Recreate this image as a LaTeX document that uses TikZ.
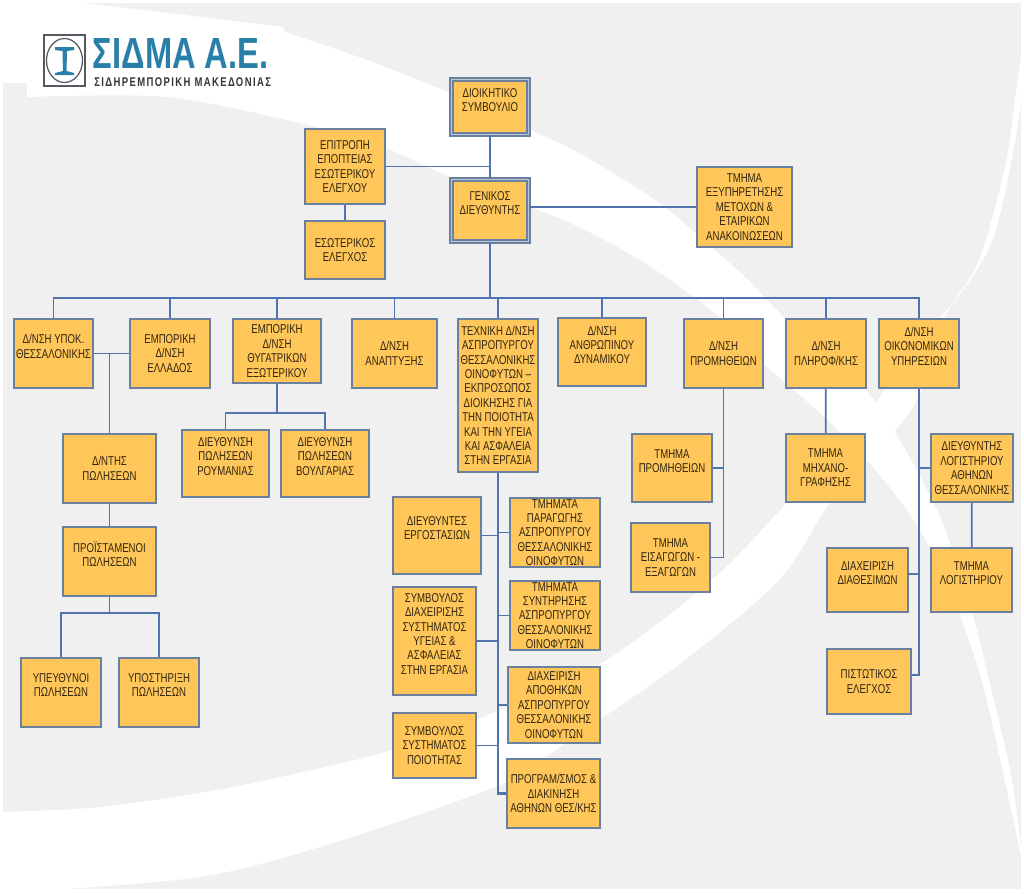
\documentclass[tikz,border=0pt]{standalone}
\usepackage{fontspec}
\setmainfont[FakeStretch=0.75]{Liberation Sans}
\usepackage{tikz}
\usetikzlibrary{shapes.geometric, positioning}
\definecolor{sheetgray}{HTML}{F0F0F1}
\definecolor{boxfill}{HTML}{FFC65A}
\definecolor{boxline}{HTML}{6A80A0}
\definecolor{linkblue}{HTML}{4F74B0}
\definecolor{boxtext}{HTML}{33260F}
\definecolor{logoblue}{HTML}{2A7FA8}
\definecolor{logogray}{HTML}{555A60}

\begin{document}
\begin{tikzpicture}[
                x=0.02cm, y=-0.02cm,
                font=\fontsize{7.3}{8.2}\selectfont,
                box/.style={rectangle, draw=boxline, line width=0.9pt, fill=boxfill, align=center, text=boxtext, inner sep=0pt},
                bigbox/.style={box, double=boxline!45, double distance=0.6pt},
                link/.style={draw=linkblue, line width=1pt},
                spine/.style={link, line width=1.2pt}
            ]
            \useasboundingbox (0,0) rectangle (1024,893);
            % background
            \fill [white] (0,0) rectangle (1024,893);
            \fill [sheetgray] (3,3) rectangle (1021,889);
            \fill [white] (0,0) -- (83,3) -- plot [smooth] coordinates {(83,3) (160,12) (283,27)} -- plot [smooth] coordinates {(285,32) (367,60) (450,93) (530,130) (579,153) (655,200) (695,233) (745,277) (787,320) (870,395) (937,510) (972,613) (989,680) (1012,780) (1022,860)} -- plot [smooth] coordinates {(1022,860) (985,693) (959,613) (920,530) (873,467) (820,413) (763,363) (720,317) (645,263) (579,227) (530,207) (450,177) (383,147) (300,123) (167,97) (27,97)} -- (27,83) -- (0,83) -- cycle;
            \fill [white] plot [smooth] coordinates {(0,812) (100,807) (233,787) (393,750) (500,710) (602,663) (712,580) (787,503) (850,437) (917,345) (963,290) (995,233) (1019,117) (1023,40)} -- plot [smooth] coordinates {(1023,40) (1015,100) (1005,167) (979,260) (945,317) (917,400) (867,463) (827,507) (779,580) (685,660) (599,720) (545,757) (500,785) (333,843) (200,877) (20,892)} -- (0,893) -- cycle;

            % logo
            \node (logoframe) [draw=logogray, line width=0.7pt, fill=white, minimum width=0.82cm, minimum height=1.02cm, inner sep=0pt] at (64.5,60.5) {};
            \node (logoring) [draw=logogray, line width=0.7pt, ellipse, minimum width=0.72cm, minimum height=0.88cm, inner sep=0pt] at (64.5,60.5) {};
            \fill [logoblue] (55,47) -- (74,47) -- (74,50) -- (67,51) -- (66.5,71) -- (74,73) -- (74,75) -- (55,75) -- (55,73) -- (63,71) -- (62.5,51) -- (55,50) -- cycle;
            \node (logoname) [text=logoblue, anchor=base west, inner sep=0pt, font=\fontsize{24.8}{26}\selectfont\bfseries] at (92.5,68) {ΣΙΔΜΑ Α.Ε.};
            \node (logosub) [text=logogray!60!black, anchor=base west, inner sep=0pt, font=\fontsize{7.2}{8}\selectfont\bfseries\addfontfeatures{LetterSpace=11}] at (94,86) {ΣΙΔΗΡΕΜΠΟΡΙΚΗ ΜΑΚΕΔΟΝΙΑΣ};

            % top of the chart
            \node (board) [bigbox, minimum width=1.54cm, minimum height=1.1cm] at (490,107) {ΔΙΟΙΚΗΤΙΚΟ\\ΣΥΜΒΟΥΛΙΟ\\~};
            \node (gm) [bigbox, minimum width=1.54cm, minimum height=1.24cm] at (490,210.5) {ΓΕΝΙΚΟΣ\\ΔΙΕΥΘΥΝΤΗΣ\\~};
            \node (epit) [box, minimum width=1.6cm, minimum height=1.5cm] at (345,166.5) {ΕΠΙΤΡΟΠΗ\\ΕΠΟΠΤΕΙΑΣ\\ΕΣΩΤΕΡΙΚΟΥ\\ΕΛΕΓΧΟΥ};
            \node (esot) [box, minimum width=1.6cm, minimum height=1.16cm] at (345,250) {ΕΣΩΤΕΡΙΚΟΣ\\ΕΛΕΓΧΟΣ};
            \node (metox) [box, minimum width=1.9cm, minimum height=1.6cm] at (744.5,207) {ΤΜΗΜΑ\\ΕΞΥΠΗΡΕΤΗΣΗΣ\\ΜΕΤΟΧΩΝ \&\\ΕΤΑΙΡΙΚΩΝ\\ΑΝΑΚΟΙΝΩΣΕΩΝ};

            % directions
            \coordinate (bus) at (490,298);
            \node (ypok) [box, minimum width=1.58cm, minimum height=1.38cm] at (53.5,353.5) {Δ/ΝΣΗ ΥΠΟΚ.\\ΘΕΣΣΑΛΟΝΙΚΗΣ\\~};
            \node (emplad) [box, minimum width=1.6cm, minimum height=1.38cm] at (170,353.5) {ΕΜΠΟΡΙΚΗ\\Δ/ΝΣΗ\\ΕΛΛΑΔΟΣ};
            \node (thyg) [box, minimum width=1.76cm, minimum height=1.28cm] at (277,351) {ΕΜΠΟΡΙΚΗ\\Δ/ΝΣΗ\\ΘΥΓΑΤΡΙΚΩΝ\\ΕΞΩΤΕΡΙΚΟΥ};
            \node (anap) [box, minimum width=1.7cm, minimum height=1.38cm] at (394.5,353.5) {Δ/ΝΣΗ\\ΑΝΑΠΤΥΞΗΣ};
            \node (tech) [box, minimum width=1.6cm, minimum height=3.06cm] at (498,395.5) {ΤΕΧΝΙΚΗ Δ/ΝΣΗ\\ΑΣΠΡΟΠΥΡΓΟΥ\\ΘΕΣΣΑΛΟΝΙΚΗΣ\\ΟΙΝΟΦΥΤΩΝ --\\ΕΚΠΡΟΣΩΠΟΣ\\ΔΙΟΙΚΗΣΗΣ ΓΙΑ\\ΤΗΝ ΠΟΙΟΤΗΤΑ\\ΚΑΙ ΤΗΝ ΥΓΕΙΑ\\ΚΑΙ ΑΣΦΑΛΕΙΑ\\ΣΤΗΝ ΕΡΓΑΣΙΑ};
            \node (anthr) [box, minimum width=1.76cm, minimum height=1.36cm] at (602,352) {Δ/ΝΣΗ\\ΑΝΘΡΩΠΙΝΟΥ\\ΔΥΝΑΜΙΚΟΥ\\~};
            \node (prom) [box, minimum width=1.58cm, minimum height=1.38cm] at (723.5,353.5) {Δ/ΝΣΗ\\ΠΡΟΜΗΘΕΙΩΝ};
            \node (plir) [box, minimum width=1.6cm, minimum height=1.38cm] at (826,353.5) {Δ/ΝΣΗ\\ΠΛΗΡΟΦ/ΚΗΣ};
            \node (oikon) [box, minimum width=1.6cm, minimum height=1.38cm] at (919,353.5) {Δ/ΝΣΗ\\ΟΙΚΟΝΟΜΙΚΩΝ\\ΥΠΗΡΕΣΙΩΝ\\~};

            % sales, left side
            \node (dnths) [box, minimum width=1.86cm, minimum height=1.38cm] at (109.5,468.5) {Δ/ΝΤΗΣ\\ΠΩΛΗΣΕΩΝ};
            \node (proist) [box, minimum width=1.86cm, minimum height=1.38cm] at (109.5,561.5) {ΠΡΟΪΣΤΑΜΕΝΟΙ\\ΠΩΛΗΣΕΩΝ\\~};
            \node (ypeuth) [box, minimum width=1.6cm, minimum height=1.38cm] at (61,692.5) {ΥΠΕΥΘΥΝΟΙ\\ΠΩΛΗΣΕΩΝ\\~};
            \node (ypost) [box, minimum width=1.6cm, minimum height=1.38cm] at (159,692.5) {ΥΠΟΣΤΗΡΙΞΗ\\ΠΩΛΗΣΕΩΝ\\~};
            \coordinate (polj) at (109.5,613);
            \node (roum) [box, minimum width=1.74cm, minimum height=1.34cm] at (225.5,463.5) {ΔΙΕΥΘΥΝΣΗ\\ΠΩΛΗΣΕΩΝ\\ΡΟΥΜΑΝΙΑΣ\\~};
            \node (voulg) [box, minimum width=1.76cm, minimum height=1.34cm] at (325,463.5) {ΔΙΕΥΘΥΝΣΗ\\ΠΩΛΗΣΕΩΝ\\ΒΟΥΛΓΑΡΙΑΣ\\~};
            \coordinate (thygj) at (277,413);

            % technical direction
            \node (dierg) [box, minimum width=1.76cm, minimum height=1.54cm] at (437,535.5) {ΔΙΕΥΘΥΝΤΕΣ\\ΕΡΓΟΣΤΑΣΙΩΝ\\~};
            \node (symd) [box, minimum width=1.66cm, minimum height=2.16cm] at (434.5,641) {ΣΥΜΒΟΥΛΟΣ\\ΔΙΑΧΕΙΡΙΣΗΣ\\ΣΥΣΤΗΜΑΤΟΣ\\ΥΓΕΙΑΣ \&\\ΑΣΦΑΛΕΙΑΣ\\ΣΤΗΝ ΕΡΓΑΣΙΑ\\~};
            \node (sympoi) [box, minimum width=1.66cm, minimum height=1.3cm] at (434.5,745.5) {ΣΥΜΒΟΥΛΟΣ\\ΣΥΣΤΗΜΑΤΟΣ\\ΠΟΙΟΤΗΤΑΣ};
            \node (parag) [box, minimum width=1.8cm, minimum height=1.38cm] at (555,532.5) {ΤΜΗΜΑΤΑ\\ΠΑΡΑΓΩΓΗΣ\\ΑΣΠΡΟΠΥΡΓΟΥ\\ΘΕΣΣΑΛΟΝΙΚΗΣ\\ΟΙΝΟΦΥΤΩΝ};
            \node (synt) [box, minimum width=1.8cm, minimum height=1.38cm] at (555,615.5) {ΤΜΗΜΑΤΑ\\ΣΥΝΤΗΡΗΣΗΣ\\ΑΣΠΡΟΠΥΡΓΟΥ\\ΘΕΣΣΑΛΟΝΙΚΗΣ\\ΟΙΝΟΦΥΤΩΝ};
            \node (apoth) [box, minimum width=1.84cm, minimum height=1.52cm] at (554,705) {ΔΙΑΧΕΙΡΙΣΗ\\ΑΠΟΘΗΚΩΝ\\ΑΣΠΡΟΠΥΡΓΟΥ\\ΘΕΣΣΑΛΟΝΙΚΗΣ\\ΟΙΝΟΦΥΤΩΝ};
            \node (prog) [box, minimum width=1.86cm, minimum height=1.38cm] at (553.5,793.5) {ΠΡΟΓΡΑΜ/ΣΜΟΣ \&\\ΔΙΑΚΙΝΗΣΗ\\ΑΘΗΝΩΝ ΘΕΣ/ΚΗΣ};

            % supply, IT, finance
            \node (tmprom) [box, minimum width=1.6cm, minimum height=1.36cm] at (672,468) {ΤΜΗΜΑ\\ΠΡΟΜΗΘΕΙΩΝ\\~};
            \node (eisag) [box, minimum width=1.58cm, minimum height=1.38cm] at (670.5,557.5) {ΤΜΗΜΑ\\ΕΙΣΑΓΩΓΩΝ -\\ΕΞΑΓΩΓΩΝ};
            \node (mich) [box, minimum width=1.58cm, minimum height=1.36cm] at (825.5,468) {ΤΜΗΜΑ\\ΜΗΧΑΝΟ-\\ΓΡΑΦΗΣΗΣ};
            \node (logdnt) [box, minimum width=1.64cm, minimum height=1.36cm] at (972,468) {ΔΙΕΥΘΥΝΤΗΣ\\ΛΟΓΙΣΤΗΡΙΟΥ\\ΑΘΗΝΩΝ\\ΘΕΣΣΑΛΟΝΙΚΗΣ};
            \node (diath) [box, minimum width=1.62cm, minimum height=1.28cm] at (867.5,580) {ΔΙΑΧΕΙΡΙΣΗ\\ΔΙΑΘΕΣΙΜΩΝ\\~};
            \node (tmlog) [box, minimum width=1.62cm, minimum height=1.28cm] at (971.5,580) {ΤΜΗΜΑ\\ΛΟΓΙΣΤΗΡΙΟΥ\\~};
            \node (pist) [box, minimum width=1.68cm, minimum height=1.3cm] at (869,681.5) {ΠΙΣΤΩΤΙΚΟΣ\\ΕΛΕΓΧΟΣ};

            \draw [link] (board) -- (gm);
            \draw [link] (epit.east) -- (epit.east -| board.south);
            \draw [link] (epit) -- (esot);
            \draw [link] (metox.west) -- (metox.west -| gm.east);
            \draw [spine] (gm) -- (bus);

            \draw [link] (bus) -| (ypok.north);
            \draw [link] (bus) -| (emplad.north);
            \draw [link] (bus) -| (thyg.north);
            \draw [link] (bus) -| (anap.north);
            \draw [link] (bus) -| (tech.north);
            \draw [link] (bus) -| (anthr.north);
            \draw [link] (bus) -| (prom.north);
            \draw [link] (bus) -| (plir.north);
            \draw [link] (bus) -| (oikon.north);

            \draw [link] (ypok.east) -- (emplad.west);
            \draw [link] (dnths.north) |- (ypok.east);
            \draw [link] (dnths) -- (proist);
            \draw [link] (proist) -- (polj);
            \draw [link] (polj) -| (ypeuth.north);
            \draw [link] (polj) -| (ypost.north);
            \draw [link] (thyg) -- (thygj);
            \draw [link] (thygj) -| (roum.north);
            \draw [link] (thygj) -| (voulg.north);

            \draw [spine] (tech.south) |- (prog.west);
            \draw [link] (dierg.east) -- (dierg.east -| tech.south);
            \draw [link] (parag.west) -- (parag.west -| tech.south);
            \draw [link] (synt.west) -- (synt.west -| tech.south);
            \draw [link] (symd.east) -- (symd.east -| tech.south);
            \draw [link] (apoth.west) -- (apoth.west -| tech.south);
            \draw [link] (sympoi.east) -- (sympoi.east -| tech.south);

            \draw [link] (prom.south) |- (eisag.east);
            \draw [link] (tmprom.east) -- (tmprom.east -| prom.south);
            \draw [link] (plir) -- (mich);
            \draw [spine] (oikon.south) |- ([yshift=0.13cm]pist.east);
            \draw [link] (logdnt.west) -- (logdnt.west -| oikon.south);
            \draw [link] ([yshift=0.12cm]diath.east) -- ([yshift=0.12cm]diath.east -| oikon.south);
            \draw [link] (logdnt) -- (tmlog);
            \end{tikzpicture}
\end{document}
